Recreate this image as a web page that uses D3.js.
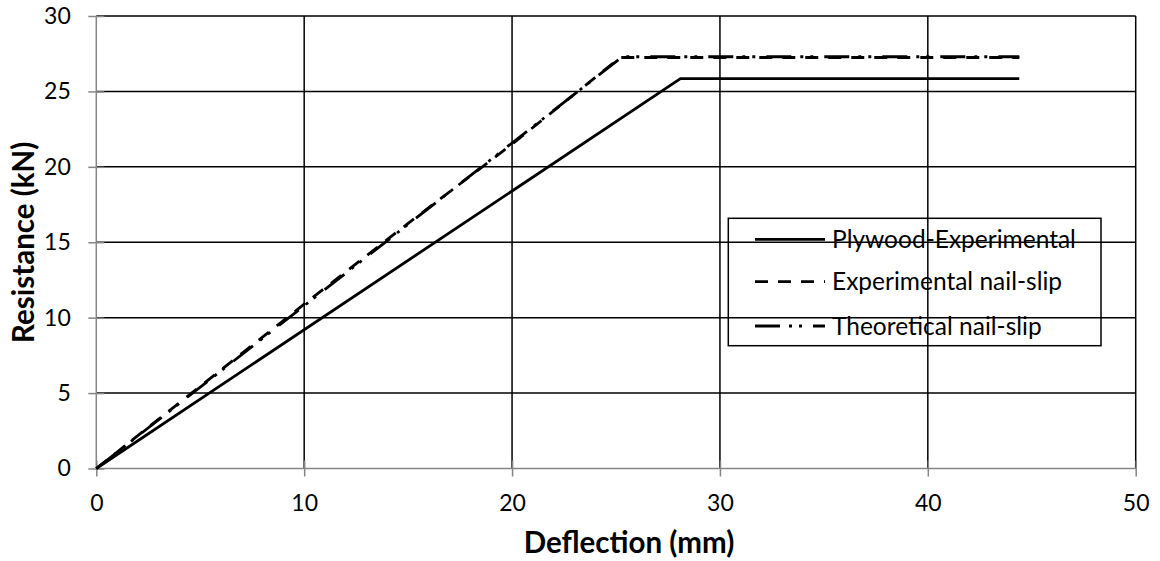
<!DOCTYPE html>
<html>
<head>
<meta charset="utf-8">
<script src="https://cdn.jsdelivr.net/npm/d3@7"></script>
<style>
  html, body { margin: 0; padding: 0; background: #fff; }
  svg { display: block; font-family: Lato, "Open Sans", sans-serif; }
</style>
</head>
<body>
<svg id="chart" width="1160" height="561"></svg>
<script>
// Load–deflection curves for the shear wall tests
const plywoodX = [0, 28.1, 44.4];
const plywoodY = [0, 25.85, 25.85];

const expSlipX = [0, 5, 10, 15, 20, 25.2, 44.4];
const expSlipY = [0, 5.45, 10.9, 16.25, 21.5, 27.25, 27.25];

const theoSlipX = [0, 25.3, 44.4];
const theoSlipY = [0, 27.3, 27.3];

const xTicks = [0, 10, 20, 30, 40, 50];
const yTicks = [0, 5, 10, 15, 20, 25, 30];

const seriesNames = ["Plywood-Experimental", "Experimental nail-slip", "Theoretical nail-slip"];

const svg = d3.select("#chart");
const plotLeft = 96.3, plotRight = 1135.7, plotTop = 16, plotBottom = 468.5;

const x = d3.scaleLinear().domain([0, 50]).range([plotLeft, plotRight]);
const y = d3.scaleLinear().domain([0, 30]).range([plotBottom, plotTop]);

const axisGray = "#868686";
const tickFont = 23;

// gridlines
svg.append("g").selectAll("line").data(yTicks.filter(d => d > 0)).join("line")
  .attr("x1", plotLeft).attr("x2", plotRight)
  .attr("y1", d => y(d)).attr("y2", d => y(d))
  .attr("stroke", "#000").attr("stroke-width", 1.5);
svg.append("g").selectAll("line").data(xTicks.filter(d => d > 0)).join("line")
  .attr("x1", d => x(d)).attr("x2", d => x(d))
  .attr("y1", plotTop).attr("y2", plotBottom)
  .attr("stroke", "#000").attr("stroke-width", 1.5);

// axes with ticks crossing the axis line
const xAxis = d3.axisBottom(x).tickValues(xTicks).tickSize(8).tickPadding(18);
const gx = svg.append("g").attr("transform", `translate(0,${plotBottom})`).call(xAxis);
gx.select(".domain").remove();
gx.selectAll(".tick line").attr("y1", -8).attr("stroke", axisGray).attr("stroke-width", 1.5);
gx.selectAll(".tick text").attr("font-size", tickFont).attr("fill", "#000").attr("font-family", "Lato, sans-serif");
gx.append("line").attr("x1", plotLeft).attr("x2", plotRight).attr("stroke", axisGray).attr("stroke-width", 1.5);

const yAxis = d3.axisLeft(y).tickValues(yTicks).tickSize(8).tickPadding(17.5);
const gy = svg.append("g").attr("transform", `translate(${plotLeft},0)`).call(yAxis);
gy.select(".domain").remove();
gy.selectAll(".tick line").attr("x1", 8).attr("stroke", axisGray).attr("stroke-width", 1.5);
gy.selectAll(".tick text").attr("font-size", tickFont).attr("fill", "#000").attr("font-family", "Lato, sans-serif");
gy.append("line").attr("y1", plotTop).attr("y2", plotBottom).attr("stroke", axisGray).attr("stroke-width", 1.5);

// series
const line = d3.line().x(d => x(d[0])).y(d => y(d[1]));
const series = [
  { xs: plywoodX, ys: plywoodY, dash: null },
  { xs: expSlipX, ys: expSlipY, dash: "13,10" },
  { xs: theoSlipX, ys: theoSlipY, dash: "25,9,3,7,3,11" }
];
series.forEach(s => {
  svg.append("path")
    .datum(d3.zip(s.xs, s.ys))
    .attr("d", line)
    .attr("fill", "none")
    .attr("stroke", "#000")
    .attr("stroke-width", 2.8)
    .attr("stroke-dasharray", s.dash);
});

// legend
const lg = svg.append("g");
lg.append("rect").attr("x", 728.3).attr("y", 218.3).attr("width", 372.7).attr("height", 127.4)
  .attr("fill", "none").attr("stroke", "#000").attr("stroke-width", 1.5);
const rowY = [239.3, 281.7, 326];
seriesNames.forEach((name, i) => {
  lg.append("line").attr("x1", 755).attr("x2", 825).attr("y1", rowY[i]).attr("y2", rowY[i])
    .attr("stroke", "#000").attr("stroke-width", 2.8)
    .attr("stroke-dasharray", series[i].dash);
  lg.append("text").attr("x", 832).attr("y", rowY[i]).attr("dy", "0.35em")
    .attr("font-size", 24.5).text(name);
});

// axis titles
svg.append("text").attr("x", 629).attr("y", 553)
  .attr("text-anchor", "middle").attr("font-weight", "bold").attr("font-size", 29.5)
  .text("Deflection (mm)");
svg.append("text").attr("transform", `translate(34,${(plotTop + plotBottom) / 2}) rotate(-90)`)
  .attr("text-anchor", "middle").attr("font-weight", "bold").attr("font-size", 29.5)
  .text("Resistance (kN)");
</script>
</body>
</html>
